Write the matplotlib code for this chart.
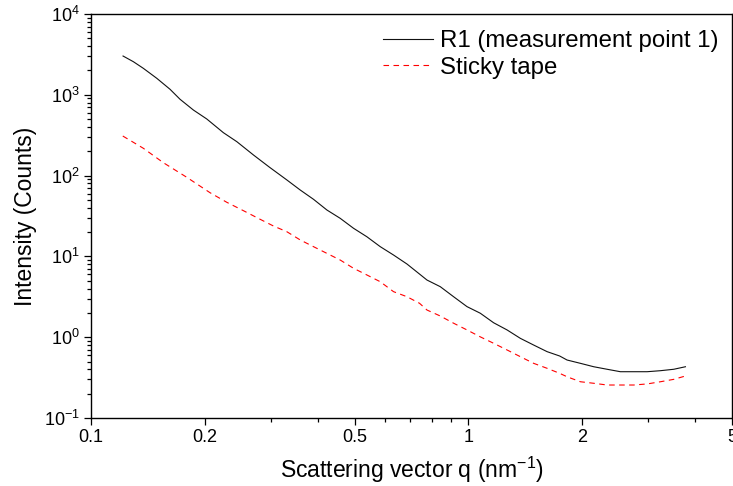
import matplotlib
matplotlib.use("Agg")
import matplotlib.pyplot as plt
import matplotlib.ticker as ticker

plt.rcParams.update({
    "font.family": ["Liberation Sans", "DejaVu Sans"],
    "font.size": 13,
    "mathtext.fontset": "custom",
    "mathtext.rm": "Liberation Sans",
    "mathtext.it": "Liberation Sans:italic",
    "mathtext.bf": "Liberation Sans:bold",
})

# ── Data ──────────────────────────────────────────────────────────────────────
q_r1 = [0.1216, 0.1295, 0.1376, 0.1494, 0.1620, 0.1722, 0.1868, 0.2027, 0.2243,
        0.2435, 0.2695, 0.2972, 0.3305, 0.3584, 0.3888, 0.4220, 0.4576, 0.4963,
        0.5386, 0.5843, 0.6337, 0.6878, 0.7425, 0.7771, 0.8428, 0.9142, 0.9921,
        1.076, 1.167, 1.267, 1.374, 1.490, 1.618, 1.747, 1.827, 1.982, 2.150,
        2.333, 2.530, 2.745, 2.979, 3.231, 3.505, 3.763]
i_r1 = [3020, 2569, 2128, 1600, 1170, 880, 648, 502, 340,
        263, 180, 127, 88.3, 66.4, 50.9, 37.5, 29.6, 22.3,
        17.5, 13.2, 10.4, 8.05, 6.05, 5.10, 4.22, 3.17, 2.39,
        1.98, 1.51, 1.23, 0.968, 0.800, 0.662, 0.585, 0.522, 0.475, 0.431,
        0.401, 0.374, 0.374, 0.374, 0.385, 0.401, 0.431]

q_tape = [0.1214, 0.1376, 0.1555, 0.1794, 0.2068, 0.2291, 0.2535, 0.2807, 0.3044,
          0.3305, 0.3584, 0.3888, 0.4220, 0.4576, 0.4963, 0.5386, 0.5843, 0.6337,
          0.6878, 0.7425, 0.7771, 0.8428, 0.9142, 0.9921, 1.076, 1.167, 1.267,
          1.374, 1.490, 1.618, 1.747, 1.827, 1.982, 2.150, 2.333, 2.530, 2.745,
          2.979, 3.231, 3.505, 3.763]
i_tape = [309, 218, 144.5, 95.3, 61.4, 46.7, 36.8, 28.8, 23.8,
          20.2, 16.0, 13.2, 10.9, 9.02, 7.13, 5.89, 4.86, 3.66,
          3.17, 2.63, 2.17, 1.83, 1.49, 1.23, 1.01, 0.841, 0.695,
          0.574, 0.475, 0.412, 0.357, 0.324, 0.281, 0.269, 0.256, 0.256, 0.256,
          0.264, 0.281, 0.301, 0.331]

x_major = [0.1, 0.2, 0.5, 1, 2, 5]
x_major_labels = ["0.1", "0.2", "0.5", "1", "2", "5"]
x_minor = [0.3, 0.4, 0.6, 0.7, 0.8, 0.9, 3, 4]

# ── Figure ────────────────────────────────────────────────────────────────────
fig = plt.figure(figsize=(7.33, 4.86), dpi=100)
ax = fig.add_axes([91 / 733, 1 - 418 / 486, 641 / 733, 404 / 486])

ax.plot(q_r1, i_r1, color="#111111", lw=0.8, label="R1 (measurement point 1)")
ax.plot(q_tape, i_tape, color="red", lw=0.8, dashes=(5, 4), label="Sticky tape")

ax.set_xscale("log")
ax.set_yscale("log")
ax.set_xlim(0.1, 5)
ax.set_ylim(0.1, 1e4)

ax.xaxis.set_major_locator(ticker.FixedLocator(x_major))
ax.xaxis.set_major_formatter(ticker.FixedFormatter(x_major_labels))
ax.xaxis.set_minor_locator(ticker.FixedLocator(x_minor))
ax.xaxis.set_minor_formatter(ticker.NullFormatter())
ax.yaxis.set_major_locator(ticker.LogLocator(base=10, numticks=10))
ax.yaxis.set_minor_locator(ticker.LogLocator(base=10, subs=range(2, 10), numticks=10))
ax.yaxis.set_minor_formatter(ticker.NullFormatter())

ax.tick_params(which="both", direction="out", top=False, right=False,
               labelsize=13, width=0.9, colors="black")
ax.tick_params(which="major", length=5, pad=3)
ax.tick_params(which="minor", length=3)
for sp in ax.spines.values():
    sp.set_linewidth(1.0)

ax.set_xlabel("Scattering vector q (nm$^{-1}$)", fontsize=16.5, labelpad=6)
ax.set_ylabel("Intensity (Counts)", fontsize=16.5, labelpad=5)

ax.legend(loc="upper right", frameon=False, fontsize=17.3, handlelength=2.1,
          handletextpad=0.28, labelspacing=0.2, borderaxespad=0.0,
          borderpad=0.3, bbox_to_anchor=(0.99, 0.978))

fig.savefig("out.png", dpi=100)
